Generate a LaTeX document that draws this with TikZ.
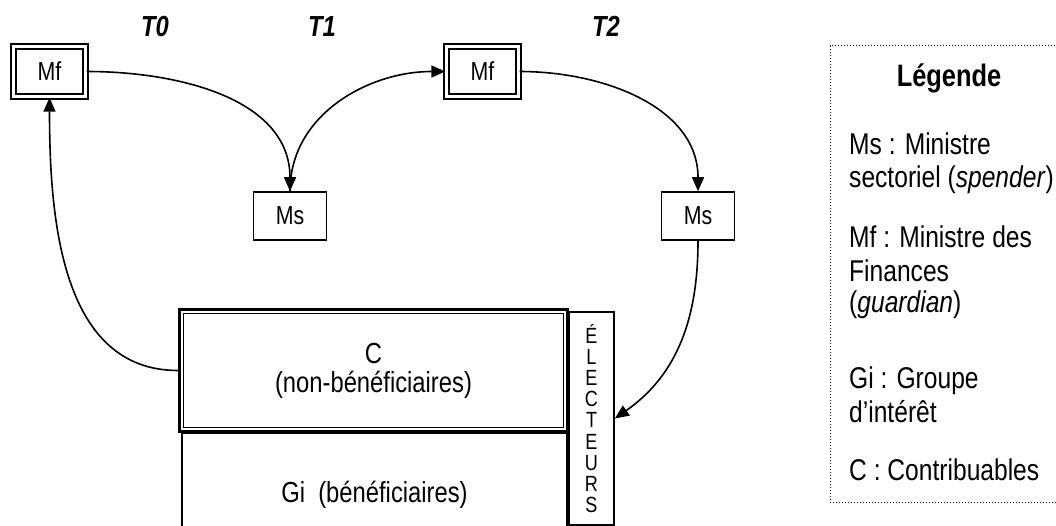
\documentclass[tikz,border=0pt]{standalone}
\usepackage{fontspec}
\setmainfont{Liberation Sans}[FakeStretch=0.82]
\usetikzlibrary{arrows.meta}
\tikzset{
  mfbox/.style={draw, double, line width=2.4pt, double distance=2.6pt, minimum width=72pt, minimum height=50pt, inner sep=0pt, font=\fontsize{26}{28}\selectfont},
  msbox/.style={draw, line width=1.6pt, minimum width=73pt, minimum height=48pt, inner sep=0pt, font=\fontsize{26}{28}\selectfont},
  arr/.style={line width=1.6pt, -{Triangle[length=14pt,width=12pt]}},
  tlabel/.style={anchor=base, font=\fontsize{29}{30}\selectfont\bfseries\itshape},
  legtext/.style={anchor=base west, inner sep=0pt, font=\fontsize{30}{33}\selectfont},
}
\begin{document}
\begin{tikzpicture}[x=1pt,y=1pt]
\useasboundingbox (0,0) rectangle (1056,525);
% time labels
\node[tlabel] (t0) at (155,488) {T0};
\node[tlabel] (t1) at (322,488) {T1};
\node[tlabel] (t2) at (606,488) {T2};
% ministers
\node[mfbox] (mf1) at (49.5,453.5) {Mf};
\node[mfbox] (mf2) at (482.5,453.5) {Mf};
\node[msbox] (ms1) at (290,309) {Ms};
\node[msbox] (ms2) at (698,309) {Ms};
% beneficiaries box
\node[draw, line width=1.8pt, minimum width=385pt, minimum height=124pt, inner sep=0pt,
      font=\fontsize{29}{30}\selectfont] (gi) at (374.5,30) {Gi\ \ (bénéficiaires)};
% electeurs
\node[draw, line width=1.8pt, minimum width=45pt, minimum height=213pt, inner sep=0pt,
      align=center, font=\fontsize{22}{21.1}\selectfont] (elec) at (591.5,106.5)
      {É\\L\\E\\C\\T\\E\\U\\R\\S};
% taxpayers box (double border)
\node[draw, fill=white, line width=3pt, minimum width=388pt, minimum height=122pt, inner sep=0pt,
      align=center, font=\fontsize{29}{29}\selectfont] (C) at (373.5,154.5)
      {C\\(non-bénéficiaires)};
\draw[line width=1.5pt] ([shift={(5.5,5.5)}]C.south west) rectangle ([shift={(-5.5,-5.5)}]C.north east);
% arrows
\draw[arr] (mf1.east) to[out=0,in=90] (ms1.north);
\draw[arr] (ms1.north) to[out=90,in=180] (mf2.west);
\draw[arr] (mf2.east) to[out=0,in=90] (ms2.north);
\draw[arr] (ms2.south) to[out=-90,in=35] (elec.east);
\draw[arr] (C.west) to[out=180,in=-90] (mf1.south);
% legend
\draw[line width=1pt, dotted] (1070,479) -- (830,479) -- (830,23) -- (1070,23);
\node[anchor=base, inner sep=0pt, font=\fontsize{31}{33}\selectfont\bfseries] (leg) at (949,438) {Légende};
\node[legtext] (l1) at (849,370) {Ms : Ministre};
\node[legtext] (l2) at (849,337) {sectoriel (\textit{spender})};
\node[legtext] (l3) at (849,277) {Mf : Ministre des};
\node[legtext] (l4) at (849,243) {Finances};
\node[legtext] (l5) at (849,212) {(\textit{guardian})};
\node[legtext] (l6) at (849,137) {Gi : Groupe};
\node[legtext] (l7) at (849,103) {d’intérêt};
\node[legtext] (l8) at (849,45) {C : Contribuables};
\end{tikzpicture}
\end{document}
